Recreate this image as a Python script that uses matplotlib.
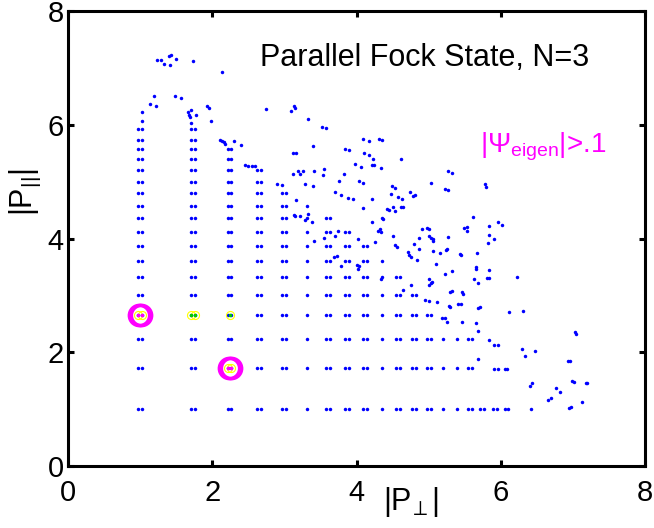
import matplotlib
matplotlib.use('Agg')
import matplotlib.pyplot as plt

plt.rcParams['font.family'] = ['Liberation Sans', 'DejaVu Sans']
plt.rcParams['mathtext.fontset'] = 'custom'
plt.rcParams['mathtext.rm'] = 'Liberation Sans'
plt.rcParams['mathtext.it'] = 'Liberation Sans:italic'
plt.rcParams['mathtext.bf'] = 'Liberation Sans:bold'
plt.rcParams['mathtext.fallback'] = 'cm'

# ---- data ----
# momentum levels of the regular grid (same levels on both axes)
levels = [1.00, 1.73, 2.24, 2.65, 3.00, 3.32, 3.61, 3.87, 4.12, 4.36,
          4.58, 4.80, 5.00, 5.20, 5.39, 5.57, 5.74, 5.92, 6.08]
# number of grid columns present in each grid row (row k sits at levels[k])
row_ncols = [19, 16, 16, 13, 12, 11, 10, 9, 8, 7, 6, 5, 4, 4, 3, 3, 2, 2]
# columns whose grid points appear as a doubled dot
col_pair = [1, 1, 1, 1, 1, 0, 1, 1, 1, 0, 1, 1, 1, 0, 0, 1, 1, 1, 1]
pair_dx = 0.053

# irregular states (off the grid)
extra_x = [1.24, 1.29, 1.33, 1.40, 1.43, 1.41, 1.50, 1.73, 2.13, 1.19, 1.14, 1.22, 1.49, 1.56,
           1.03, 1.03, 1.70, 1.66, 1.68, 1.69, 1.78, 1.70, 1.93, 1.96, 1.98, 2.75, 2.11, 2.14,
           2.16, 2.18, 2.30, 2.40, 2.45, 2.50, 2.55, 2.59, 2.90,
           3.13, 3.15, 3.09, 3.33, 3.52, 3.58, 4.09, 4.17, 4.31, 4.35, 3.39, 3.12, 3.16, 3.84,
           3.89, 4.11, 4.17, 4.23, 4.61, 3.98, 4.06, 4.22, 4.24, 4.34, 3.19, 3.26, 3.22, 3.12,
           3.41, 3.55, 3.53, 3.83, 2.96, 3.28, 3.39, 3.76, 4.03, 4.09, 4.49, 4.53, 5.03, 3.16,
           3.70, 3.79, 3.88, 3.95, 4.22, 4.48, 4.57, 4.63, 4.74, 4.78, 4.81, 4.09, 4.50, 4.53,
           4.42, 4.45, 4.61, 4.65, 3.13, 3.15, 3.22, 3.33, 3.29, 3.38, 4.22, 4.35, 4.37,
           3.74, 3.70, 3.55, 3.41, 4.02, 4.25, 4.30, 4.33, 4.34, 4.50, 4.53, 4.56, 4.86, 4.91,
           4.98, 5.01, 5.01, 5.03, 5.06, 5.06, 4.80, 4.87, 4.72, 4.73, 4.76, 4.84, 5.06, 5.10,
           3.69, 3.73, 3.79, 4.01, 4.04, 4.02, 4.34, 4.75, 4.64, 5.00, 5.01, 5.03, 5.04, 4.95,
           5.00, 5.12,
           5.16, 5.24, 5.25, 5.27, 5.33, 5.23, 5.27, 5.78, 5.80, 5.61, 5.49, 5.53, 5.53, 5.84,
           5.96, 6.01, 5.27, 5.83, 5.90, 5.82, 5.44, 5.45, 5.67, 5.22, 5.33, 5.65, 5.66, 5.84,
           5.63, 5.69, 5.81, 5.84, 6.22, 5.30, 5.32, 5.46, 5.48,
           5.28, 5.30, 5.41, 5.45, 5.69, 5.71, 5.18, 5.23, 5.25, 5.46, 5.66, 5.68, 6.12, 6.31,
           5.83, 5.90, 5.96, 5.68, 6.29, 6.34, 6.48, 7.03, 7.04, 6.93, 6.96, 5.90, 5.96, 6.06,
           6.09, 6.40, 6.43, 6.76, 6.82, 6.66, 6.70, 6.99, 7.01, 7.18, 7.20, 7.12, 6.94, 6.97,
           6.42]
extra_y = [7.14, 7.14, 7.06, 7.21, 7.22, 7.05, 7.16, 7.13, 6.92, 6.50, 6.37, 6.33, 6.51, 6.47,
           6.23, 6.06, 6.26, 6.22, 6.18, 6.14, 6.17, 6.04, 6.33, 6.30, 6.07, 6.28, 5.74, 5.72,
           5.70, 5.66, 5.72, 5.65, 5.29, 5.28, 5.28, 5.28, 4.95,
           6.33, 6.30, 6.24, 6.11, 5.96, 5.94, 5.75, 5.71, 5.75, 5.74, 5.63, 5.51, 5.50, 5.58,
           5.56, 5.51, 5.47, 5.40, 5.40, 5.31, 5.26, 5.30, 5.29, 5.24, 5.18, 5.18, 5.14, 5.13,
           5.18, 5.23, 5.11, 5.13, 4.94, 4.95, 4.93, 5.01, 5.01, 4.98, 4.93, 4.89, 4.98, 4.67,
           4.82, 4.77, 4.71, 4.69, 4.69, 4.79, 4.73, 4.70, 4.81, 4.74, 4.76, 4.53, 4.56, 4.49,
           4.52, 4.50, 4.56, 4.56, 4.42, 4.39, 4.39, 4.43, 4.33, 4.29, 4.29, 4.36, 4.35,
           4.13, 4.04, 4.01, 3.95, 3.99, 3.94, 4.14, 4.17, 4.11, 4.05, 3.89, 3.85, 4.01, 4.16,
           4.19, 4.16, 4.04, 4.01, 3.99, 3.96, 3.91, 3.81, 3.77, 3.71, 3.67, 3.63, 3.78, 3.56,
           3.68, 3.69, 3.52, 3.54, 3.51, 3.46, 3.28, 3.19, 3.10, 3.28, 3.18, 3.22, 3.23, 2.92,
           2.91, 2.88,
           3.74, 3.79, 3.81, 5.18, 5.15, 4.87, 4.85, 4.95, 4.91, 4.37, 4.18, 4.20, 4.14, 4.22,
           4.29, 4.23, 4.03, 4.06, 3.99, 3.92, 3.73, 3.71, 3.74, 3.38, 3.43, 3.46, 3.50, 3.44,
           3.28, 3.22, 3.31, 3.31, 3.32, 3.06, 3.08, 3.06, 3.03,
           2.82, 2.79, 2.84, 2.85, 2.77, 2.79, 2.60, 2.61, 2.53, 2.54, 2.52, 2.37, 2.70, 2.72,
           2.22, 2.12, 2.12, 1.89, 2.06, 1.93, 2.02, 2.35, 2.33, 1.84, 1.84, 1.70, 1.70, 1.70,
           1.70, 1.40, 1.46, 1.37, 1.30, 1.16, 1.19, 1.49, 1.48, 1.46, 1.46, 1.12, 1.02, 1.04,
           1.01]

# highlighted states
big_x = [1.00, 2.24]          # |Psi_eigen| > .1 (magenta rings, magenta dots)
big_y = [2.65, 1.73]
mid_x = [1.00, 1.73, 2.24, 2.24]   # yellow rings
mid_y = [2.65, 2.65, 2.65, 1.73]
mid_pair = [1, 1, 0, 1]
green_x = [1.73, 2.24]
green_y = [2.65, 2.65]
green_pair = [1, 0]

# ---- build grid point lists ----
gx, gy = [], []
for j, n in enumerate(row_ncols):
    for i in range(n):
        if col_pair[i]:
            gx += [levels[i] - pair_dx / 2, levels[i] + pair_dx / 2]
            gy += [levels[j], levels[j]]
        else:
            gx.append(levels[i])
            gy.append(levels[j])

fig = plt.figure(figsize=(6.54, 5.28), dpi=100)
ax = fig.add_axes([0.104, 0.1174, 0.8823, 0.8617])

blue = '#0000ff'
ax.plot(gx, gy, ls='none', marker='o', ms=2.5, mew=0, color=blue)
ax.plot(extra_x, extra_y, ls='none', marker='o', ms=2.5, mew=0, color=blue)

# yellow rings
for x, y, p in zip(mid_x, mid_y, mid_pair):
    offs = [-pair_dx / 2, pair_dx / 2] if p else [0.0]
    for d in offs:
        ax.plot([x + d], [y], ls='none', marker='o', ms=5.8, mfc='none',
                mec='#ffff00', mew=0.8)
# green dots
for x, y, p in zip(green_x, green_y, green_pair):
    offs = [-pair_dx / 2, pair_dx / 2] if p else [0.0]
    for d in offs:
        ax.plot([x + d], [y], ls='none', marker='o', ms=2.6, mew=0, color='#00cc00')
# magenta rings + dots
for x, y in zip(big_x, big_y):
    for d in [-0.015, 0.015]:
        ax.plot([x + d], [y], ls='none', marker='o', ms=14.6, mfc='none',
                mec='#ff00ff', mew=2.5)
    for d in [-pair_dx / 2, pair_dx / 2]:
        ax.plot([x + d], [y], ls='none', marker='o', ms=2.6, mew=0, color='#ff00ff')

ax.set_xlim(0, 8)
ax.set_ylim(0, 8)
ax.set_xticks([0, 2, 4, 6, 8])
ax.set_yticks([0, 2, 4, 6, 8])
for s in ax.spines.values():
    s.set_linewidth(2.2)
ax.tick_params(direction='in', length=4.3, width=2.2, top=True, right=True,
               labelsize=21)
ax.tick_params(axis='x', pad=9)
ax.tick_params(axis='y', pad=3)

ax.text(2.66, 7.03, 'Parallel Fock State, N=3', fontsize=22, va='baseline', ha='left')
ax.text(5.715, 5.51, r'$\mathregular{|\Psi_{eigen}|}$>.1', fontsize=20,
        color='#ff00ff', va='baseline', ha='left')

ax.set_xlabel(r'$\mathregular{|P_{\!\perp}|}$', fontsize=22, ha='left', va='baseline')
ax.xaxis.set_label_coords(0.5455, -0.0967)
ax.set_ylabel(r'$\mathregular{|P_{||}|}$', fontsize=22, ha='center', va='bottom')
ax.yaxis.set_label_coords(-0.0425, 0.602)

fig.savefig('out.png', dpi=100)
